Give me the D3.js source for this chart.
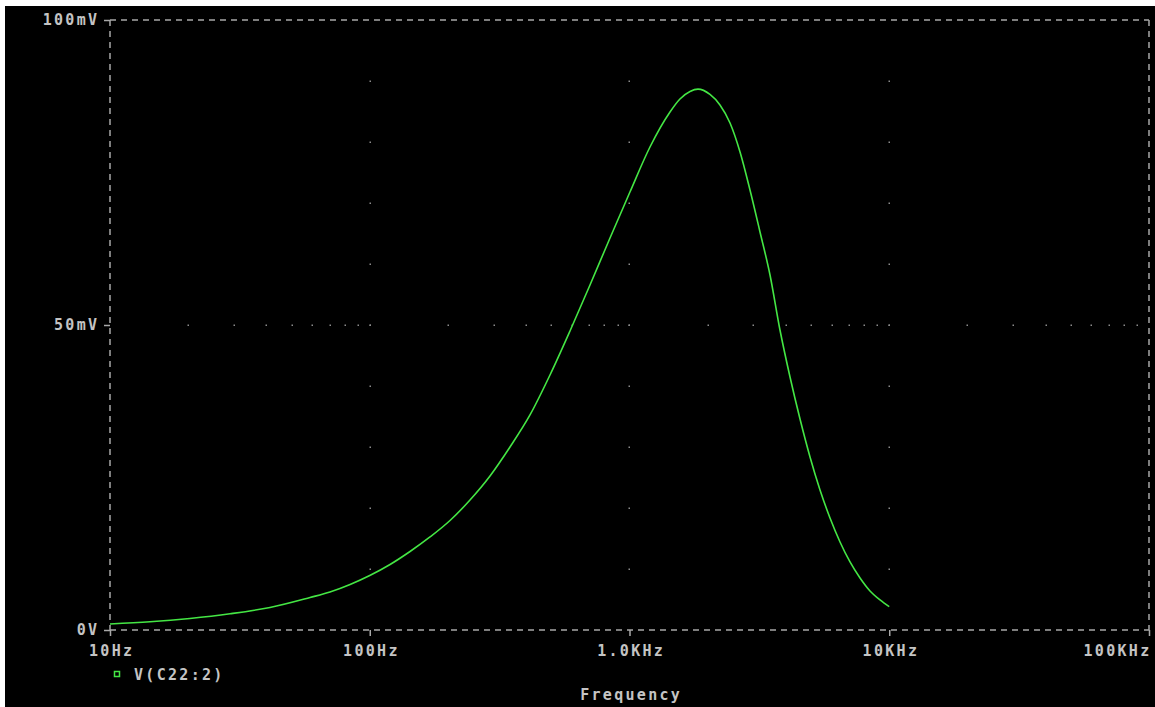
<!DOCTYPE html>
<html>
<head>
<meta charset="utf-8">
<script src="https://cdn.jsdelivr.net/npm/d3@7"></script>
<style>
  html, body { margin: 0; padding: 0; background: #ffffff; }
  svg { display: block; }
  text { font-family: "DejaVu Sans Mono", "Liberation Mono", monospace; font-weight: bold; }
</style>
</head>
<body>
<svg id="chart" width="1155" height="707"></svg>
<script>
// ---- data ----
const freqHz = [10, 14.26, 20.3, 29.0, 41.3, 58.9, 70.3, 84.0, 100, 119.7, 142.9, 170.6, 203.7, 243.2, 290.4,
  346.7, 413.9, 494.2, 590.1, 704.6, 841.3, 1004, 1199, 1432, 1564, 1710, 1835, 2041, 2230, 2438, 2664,
  2910, 3180, 3475, 3796, 4149, 4534, 4954, 5413, 5915, 6464, 7063, 7718, 8433, 9213, 10000];
const voltage_mV = [0.98, 1.34, 1.89, 2.66, 3.69, 5.33, 6.23, 7.46, 8.93, 10.74, 12.87, 15.25, 17.95, 21.31, 25.25,
  30.0, 35.25, 41.80, 49.02, 56.56, 64.26, 71.80, 79.18, 84.92, 87.05, 88.28, 88.66, 87.79, 86.07, 83.11, 78.36,
  72.13, 65.25, 58.20, 49.18, 41.48, 34.59, 28.36, 22.95, 18.36, 14.43, 11.15, 8.52, 6.39, 4.92, 3.82];
const xTickValues = [10, 100, 1000, 10000, 100000];
const xTickLabels = ["10Hz", "100Hz", "1.0KHz", "10KHz", "100KHz"];
const yTickValues = [0, 50, 100];
const yTickLabels = ["0V", "50mV", "100mV"];
const yGridDotValues = [10, 20, 30, 40, 50, 60, 70, 80, 90];
const seriesName = "V(C22:2)";
const xAxisTitle = "Frequency";

// ---- layout ----
const W = 1155, H = 707;
const plot = { left: 110, right: 1149, top: 20, bottom: 630 };
const textColor = "#c4c4c4";
const frameColor = "#a8a8a8";
const dotColor = "#8c8c8c";
const lineColor = "#44e644";

const svg = d3.select("#chart");
svg.append("rect").attr("x", 5).attr("y", 6).attr("width", W - 5).attr("height", H - 6).attr("fill", "#000");

const x = d3.scaleLog().domain([10, 100000]).range([plot.left, plot.right]);
const y = d3.scaleLinear().domain([0, 100]).range([plot.bottom, plot.top]);

// grid dots: vertical decade lines at interior decades
const gridG = svg.append("g");
[100, 1000, 10000].forEach(f => {
  yGridDotValues.forEach(v => {
    gridG.append("rect").attr("x", Math.round(x(f)) - 0.5).attr("y", Math.round(y(v)) - 0.5)
      .attr("width", 1.5).attr("height", 1.5).attr("fill", dotColor);
  });
});
// horizontal 50mV line: dots at every log minor tick
const minorTicks = x.ticks().filter(f => f > 10 && f < 100000);
minorTicks.forEach(f => {
  gridG.append("rect").attr("x", Math.round(x(f)) - 0.5).attr("y", Math.round(y(50)) - 0.5)
    .attr("width", 1.5).attr("height", 1.5).attr("fill", dotColor);
});

// dashed frame
const frame = svg.append("g").attr("stroke", frameColor).attr("stroke-width", 1.5).attr("fill", "none")
  .attr("stroke-dasharray", "6,5");
frame.append("line").attr("x1", plot.left).attr("x2", plot.right).attr("y1", plot.top).attr("y2", plot.top);
frame.append("line").attr("x1", plot.left).attr("x2", plot.right).attr("y1", plot.bottom).attr("y2", plot.bottom);
frame.append("line").attr("x1", plot.left).attr("x2", plot.left).attr("y1", plot.top).attr("y2", plot.bottom);
frame.append("line").attr("x1", plot.right).attr("x2", plot.right).attr("y1", plot.top).attr("y2", plot.bottom);

// axes via d3 axis generators
const fontSize = 15, spacing = 2.3;
const xAxis = d3.axisBottom(x).tickValues(xTickValues)
  .tickFormat((d, i) => xTickLabels[i]).tickSize(6).tickPadding(9);
const xg = svg.append("g").attr("transform", `translate(0,${plot.bottom})`).call(xAxis);
xg.select(".domain").remove();
xg.selectAll(".tick line").attr("stroke", frameColor).attr("stroke-width", 1.5);
xg.selectAll(".tick text").attr("fill", textColor).attr("font-size", fontSize)
  .attr("font-family", "DejaVu Sans Mono").attr("font-weight", "bold")
  .attr("letter-spacing", spacing).attr("dx", spacing / 2);
xg.selectAll(".tick text").filter(d => d === 100000).attr("text-anchor", "end").attr("dx", 2);

const yAxis = d3.axisLeft(y).tickValues(yTickValues)
  .tickFormat((d, i) => yTickLabels[i]).tickSize(6).tickPadding(7);
const yg = svg.append("g").attr("transform", `translate(${plot.left},0)`).call(yAxis);
yg.select(".domain").remove();
yg.selectAll(".tick line").attr("stroke", frameColor).attr("stroke-width", 1.5);
yg.selectAll(".tick text").attr("fill", textColor).attr("font-size", fontSize)
  .attr("font-family", "DejaVu Sans Mono").attr("font-weight", "bold")
  .attr("letter-spacing", spacing).attr("dx", spacing);

// curve
const data = freqHz.map((f, i) => ({ f, v: voltage_mV[i] }));
const line = d3.line().x(d => x(d.f)).y(d => y(d.v)).curve(d3.curveMonotoneX);
svg.append("path").datum(data).attr("d", line).attr("fill", "none")
  .attr("stroke", lineColor).attr("stroke-width", 1.6);

// legend
svg.append("rect").attr("x", 114.5).attr("y", 671.5).attr("width", 5).attr("height", 5)
  .attr("fill", "none").attr("stroke", lineColor).attr("stroke-width", 1.5);
svg.append("text").attr("x", 134).attr("y", 680).attr("fill", textColor)
  .attr("font-size", fontSize).attr("letter-spacing", spacing).text(seriesName);

// x axis title
svg.append("text").attr("x", 630 + spacing / 2).attr("y", 700).attr("text-anchor", "middle")
  .attr("fill", textColor).attr("font-size", fontSize).attr("letter-spacing", spacing).text(xAxisTitle);
</script>
</body>
</html>
